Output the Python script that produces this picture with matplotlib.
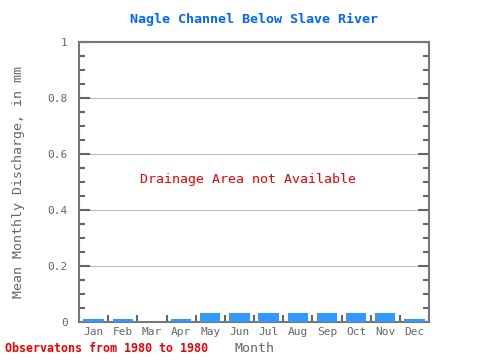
import numpy as np
import matplotlib
matplotlib.use("Agg")
import matplotlib.pyplot as plt

months = ['Jan', 'Feb', 'Mar', 'Apr', 'May', 'Jun', 'Jul', 'Aug', 'Sep', 'Oct', 'Nov', 'Dec']
discharge = [0.01, 0.01, 0.0, 0.01, 0.03, 0.03, 0.03, 0.03, 0.03, 0.03, 0.03, 0.01]
y_ticks = [0, 0.2, 0.4, 0.6, 0.8, 1]
y_labels = ['0', '0.2', '0.4', '0.6', '0.8', '1']

plt.rcParams['font.family'] = ['DejaVu Sans Mono']
grey = '#666666'

fig = plt.figure(figsize=(4.8, 3.6), dpi=100)
ax = fig.add_axes([0.1646, 0.106, 0.7292, 0.777])

x = np.arange(len(months))
ax.bar(x, discharge, width=0.7, color='#3399ff', zorder=3)

ax.set_xlim(-0.5, 11.5)
ax.set_ylim(0, 1)
ax.set_xticks(x)
ax.set_xticklabels(months)
ax.set_xticks(np.arange(-0.5, 12, 1), minor=True)
ax.tick_params(axis='x', which='major', length=0, labelsize=8, colors=grey, pad=4)
ax.tick_params(axis='x', which='minor', direction='in', length=5, width=1.5, color=grey, top=False)

ax.set_yticks(y_ticks)
ax.set_yticklabels(y_labels)
ax.set_yticks(np.arange(0, 1.001, 0.05), minor=True)
ax.tick_params(axis='y', which='both', direction='in', right=True, color=grey, width=1.5, labelsize=8, labelcolor=grey)
ax.tick_params(axis='y', which='major', length=8, pad=8)
ax.tick_params(axis='y', which='minor', length=4)
ax.grid(axis='y', which='major', color='#bbbbbb', linewidth=0.8, zorder=0)

for s in ax.spines.values():
    s.set_color('#777777')
    s.set_linewidth(1.5)

ax.set_xlabel('Month', fontsize=9.6, color=grey, labelpad=3)
ax.set_ylabel('Mean Monthly Discharge, in mm', fontsize=9.5, color=grey, labelpad=16)
ax.set_title('Nagle Channel Below Slave River', fontsize=9.6, color='#0066ff', fontweight='bold', pad=14)

ax.text(0.482, 0.51, 'Drainage Area not Available', transform=ax.transAxes,
        ha='center', va='center', color='#ee0000', fontsize=9.5)
fig.text(0.01, 0.015, 'Observatons from 1980 to 1980', color='#ee0000',
         fontsize=8.4, fontweight='bold', ha='left', va='bottom')

fig.savefig('out.png', dpi=100)
